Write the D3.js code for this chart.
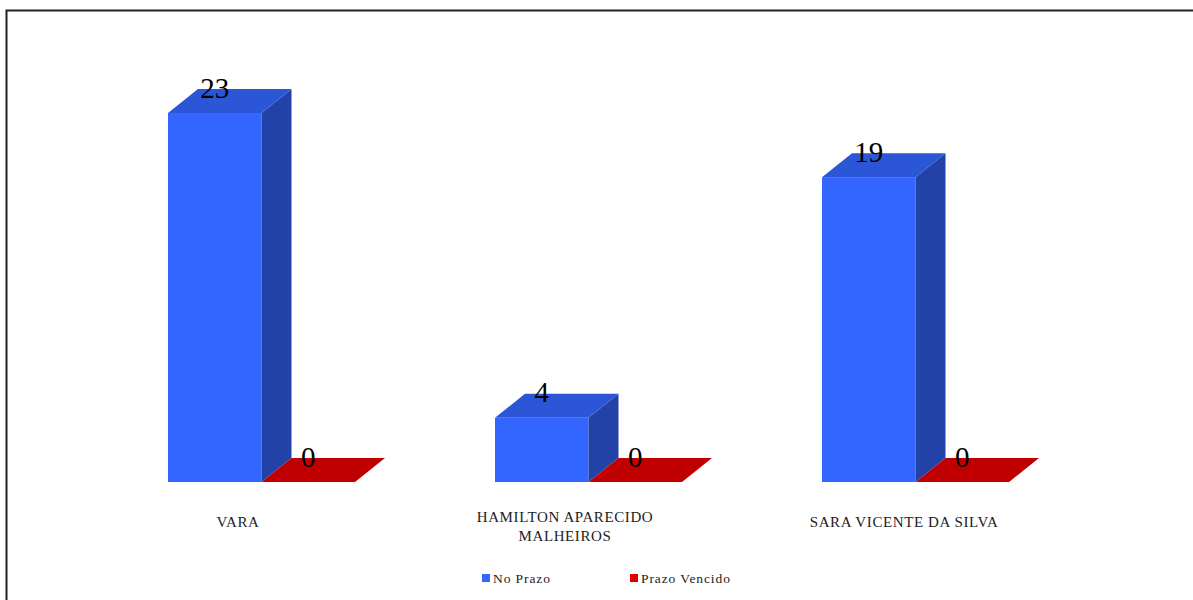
<!DOCTYPE html>
<html>
<head>
<meta charset="utf-8">
<script src="https://cdn.jsdelivr.net/npm/d3@7"></script>
<style>
  body { margin: 0; background: #fff; }
  svg { display: block; }
  text { font-family: 'Liberation Serif', 'Times New Roman', serif; }
</style>
</head>
<body>
<svg id="chart" width="1193" height="600"></svg>
<script>
const categories = ['VARA', 'HAMILTON APARECIDO|MALHEIROS', 'SARA VICENTE DA SILVA'];
const series = ['No Prazo', 'Prazo Vencido'];
const noPrazo = [23, 4, 19];
const prazoVencido = [0, 0, 0];

const svg = d3.select('#chart');
const width = 1193, height = 600;

// frame
svg.append('rect')
  .attr('x', 6.5).attr('y', 10.5)
  .attr('width', width).attr('height', height)
  .attr('fill', 'none').attr('stroke', '#222').attr('stroke-width', 2);

// colors per series: front, top, side
const colors = {
  'No Prazo': { front: '#3366FF', top: '#2B56D6', side: '#2342A8' },
  'Prazo Vencido': { front: '#C00000', top: '#C00000', side: '#A00000' }
};

const depthX = 30, depthY = 24;
// label centre inside each category slot (text boxes are not quite centred)
const labelCenter = [70, 70, 82];

const x = d3.scaleBand().domain(categories).range([168, 1149]).paddingInner(0);
const xs = d3.scaleBand().domain(series).range([0, 187]);
const y = d3.scaleLinear().domain([0, 23]).range([482, 113]);

const rows = categories.map((c, i) => ({
  cat: c,
  idx: i,
  values: [
    { key: 'No Prazo', value: noPrazo[i] },
    { key: 'Prazo Vencido', value: prazoVencido[i] }
  ]
}));

const groups = svg.selectAll('.cat')
  .data(rows)
  .enter().append('g')
  .attr('class', 'cat')
  .attr('transform', d => `translate(${x(d.cat)},0)`);

groups.each(function(d) {
  const g = d3.select(this);
  d.values.forEach(v => {
    const x0 = xs(v.key), x1 = x0 + xs.bandwidth();
    const yt = y(v.value), yb = y(0);
    const col = colors[v.key];
    // front face
    if (yb - yt > 0) {
      g.append('rect')
        .attr('x', x0).attr('y', yt)
        .attr('width', x1 - x0).attr('height', yb - yt)
        .attr('fill', col.front);
      // side face
      g.append('path')
        .attr('d', `M${x1},${yt}L${x1 + depthX},${yt - depthY}L${x1 + depthX},${yb - depthY}L${x1},${yb}Z`)
        .attr('fill', col.side);
    }
    // top face
    g.append('path')
      .attr('d', `M${x0},${yt}L${x0 + depthX},${yt - depthY}L${x1 + depthX},${yt - depthY}L${x1},${yt}Z`)
      .attr('fill', col.top);
    // value label
    g.append('text')
      .attr('x', (x0 + x1) / 2)
      .attr('y', yt - 15.5)
      .attr('text-anchor', 'middle')
      .attr('font-size', 29)
      .attr('fill', '#000')
      .text(v.value);
  });

  // category label
  const lines = d.cat.split('|');
  const cx = labelCenter[d.idx];
  const t = g.append('text')
    .attr('x', cx)
    .attr('y', 527)
    .attr('text-anchor', 'middle')
    .attr('font-size', 15)
    .attr('letter-spacing', 0.6)
    .attr('fill', '#222');
  lines.forEach((l, i) => {
    t.append('tspan').attr('x', cx).attr('dy', i === 0 ? (lines.length > 1 ? -5 : 0) : 19).text(l);
  });
});

// legend
const legendX = [482, 630];
const legend = svg.selectAll('.legend')
  .data(series)
  .enter().append('g')
  .attr('class', 'legend')
  .attr('transform', (d, i) => `translate(${legendX[i]},574)`);
legend.append('rect')
  .attr('width', 8).attr('height', 8)
  .attr('fill', d => d === 'No Prazo' ? '#3366FF' : '#E00000');
legend.append('text')
  .attr('x', 11).attr('y', 9)
  .attr('font-size', 13.5)
  .attr('letter-spacing', 0.9)
  .attr('fill', '#222')
  .text(d => d);
</script>
</body>
</html>
